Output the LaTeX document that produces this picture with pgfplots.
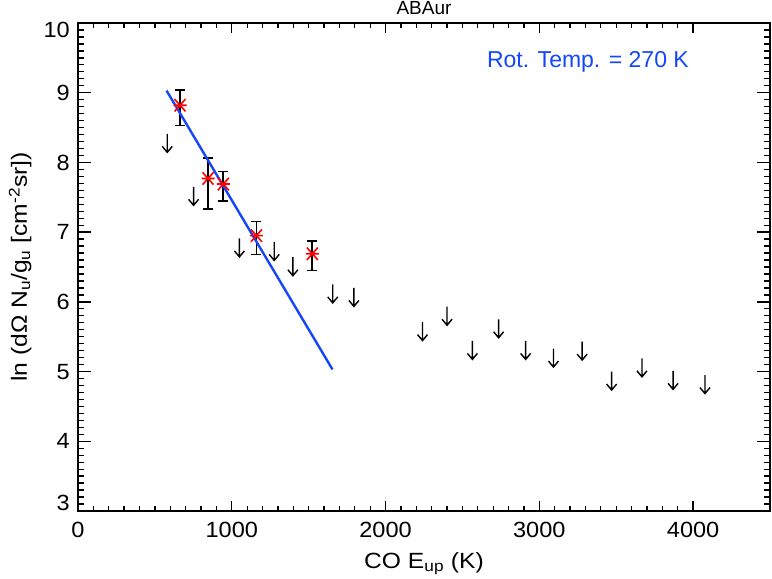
\documentclass[border=0pt]{standalone}
\usepackage{pgfplots}
\pgfplotsset{compat=1.18}
\usepackage{fontspec}
\setmainfont{Liberation Sans}
\newfontfamily\labfont{Liberation Sans}[FakeStretch=1.12]
\newfontfamily\tickfont{Liberation Sans}[FakeStretch=1.07]
\definecolor{fitblue}{RGB}{20,70,250}
\pgfdeclareplotmark{uplim}{%
  \pgfpathmoveto{\pgfpoint{0bp}{0bp}}%
  \pgfpathlineto{\pgfpoint{0bp}{-18.5bp}}%
  \pgfpathmoveto{\pgfpoint{-5bp}{-12.5bp}}%
  \pgfpathlineto{\pgfpoint{0bp}{-18.5bp}}%
  \pgfpathlineto{\pgfpoint{5bp}{-12.5bp}}%
  \pgfusepathqstroke}
\pgfdeclareplotmark{idlast}{%
  \pgfpathmoveto{\pgfpoint{-6.5bp}{0bp}}\pgfpathlineto{\pgfpoint{6.5bp}{0bp}}%
  \pgfpathmoveto{\pgfpoint{-5.5bp}{-6.2bp}}\pgfpathlineto{\pgfpoint{5.5bp}{6.2bp}}%
  \pgfpathmoveto{\pgfpoint{-5.5bp}{6.2bp}}\pgfpathlineto{\pgfpoint{5.5bp}{-6.2bp}}%
  \pgfusepathqstroke}
\pgfdeclareplotmark{ecap}{%
  \pgfpathmoveto{\pgfpoint{-5bp}{0bp}}\pgfpathlineto{\pgfpoint{5bp}{0bp}}%
  \pgfusepathqstroke}
\begin{document}
\begin{tikzpicture}
\useasboundingbox (-78bp,-68bp) rectangle (694bp,511bp);
\begin{axis}[
  scale only axis, width=692bp, height=488bp,
  at={(0,0)}, anchor=south west,
  xmin=0, xmax=4500, ymin=3, ymax=10,
  xtick={0,1000,2000,3000,4000}, xticklabels={0,1000,2000,3000,4000},
  ytick={3,4,5,6,7,8,9,10},
  yticklabels={\raisebox{8bp}[\height][\depth]{3},4,5,6,7,8,9,\raisebox{-7bp}[\height][\depth]{10}},
  minor x tick num=9, minor y tick num=9,
  tick align=inside,
  axis line style={line width=1.8bp},
  every tick/.append style={black, line width=1.3bp},
  xtick style={/pgfplots/major tick length=10bp,/pgfplots/minor tick length=5bp},
  ytick style={/pgfplots/major tick length=13bp,/pgfplots/minor tick length=6.5bp},
  tick label style={font=\tickfont\fontsize{22bp}{24bp}\selectfont},
  yticklabel style={anchor=east, inner sep=0pt, xshift=-8bp},
  xticklabel style={anchor=north, inner sep=0pt, yshift=-11bp},
  xlabel={CO E\textsubscript{up} (K)},
  xlabel style={at={([yshift=-57bp]axis description cs:0.5,0)}, anchor=base, inner sep=0pt, font=\labfont\fontsize{22bp}{24bp}\selectfont},
  ylabel={ln (dΩ N\textsubscript{u}/g\textsubscript{u} [cm\textsuperscript{-2}sr])},
  ylabel style={at={([xshift=-51bp]axis description cs:0,0.5)}, anchor=base, inner sep=0pt, font=\labfont\fontsize{22bp}{24bp}\selectfont},
  title={ABAur},
  title style={at={([yshift=3bp]axis description cs:0.5,1)}, anchor=base, inner sep=0pt, font=\fontsize{19bp}{21bp}\selectfont},
  clip=false,
]
\addplot[only marks, mark=uplim, black, mark options={line width=1.4bp}] coordinates {
(580.49,8.41) (751.72,7.65) (1049.84,6.91) (1276.05,6.86) (1397.38,6.64)
(1656.47,6.25) (1794.23,6.20) (2240.24,5.71) (2399.82,5.93) (2564.81,5.44)
(2735.19,5.75) (2910.95,5.44) (3092.06,5.33) (3278.51,5.43) (3470.28,5.00)
(3667.34,5.19) (3869.68,5.01) (4077.28,4.95)};
\addplot[only marks, red, mark=idlast,
  mark options={line width=1.6bp},
  error bars/.cd, y dir=both, y explicit, error mark=ecap,
  error bar style={black, line width=1.8bp},
  error mark options={black, rotate=90, line width=1.6bp}]
coordinates {
(663.35,8.82) += (0,0.22) -= (0,0.29)
(845.59,7.77) += (0,0.29) -= (0,0.44)
(944.97,7.69) += (0,0.18) -= (0,0.24)
(1160.20,6.95) += (0,0.20) -= (0,0.27)
(1524.19,6.69) += (0,0.18) -= (0,0.24)};
\addplot[fitblue, line width=2.4bp] coordinates {(576,9.03) (1655,5.03)};
\node[text=fitblue, font=\fontsize{23bp}{25bp}\selectfont, anchor=center] at (axis cs:3316,9.44) {Rot. Temp. = 270 K};
\end{axis}
\end{tikzpicture}
\end{document}
